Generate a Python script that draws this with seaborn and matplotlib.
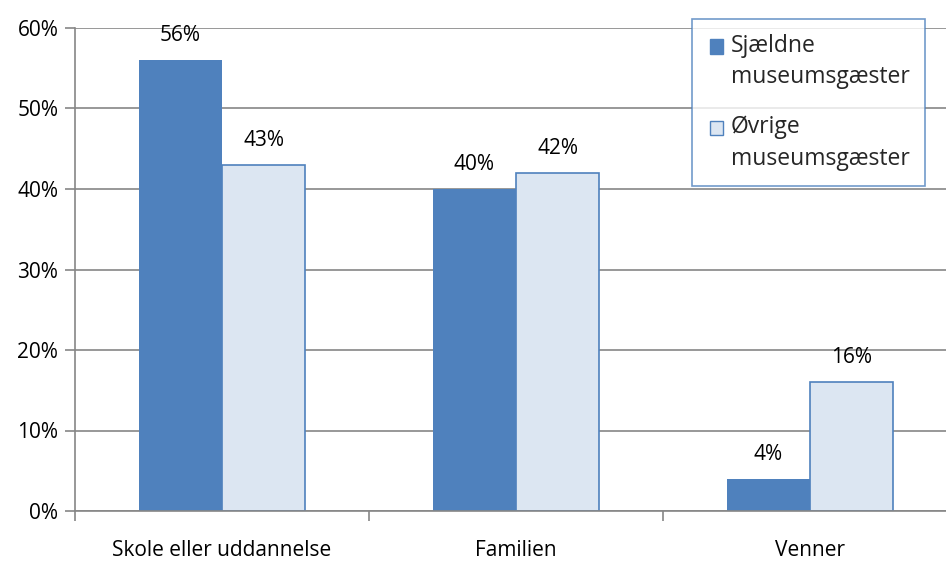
import matplotlib
matplotlib.use("Agg")
import matplotlib.pyplot as plt
import seaborn as sns
import pandas as pd
from matplotlib.patches import Patch
from matplotlib.ticker import FixedLocator, PercentFormatter

categories = ["Skole eller uddannelse", "Familien", "Venner"]
series_names = ["Sjældne\nmuseumsgæster", "Øvrige\nmuseumsgæster"]
sjaeldne = [56, 40, 4]
oevrige = [43, 42, 16]

dark = "#4F81BD"
light = "#DCE6F2"
grid_c = "#868686"

df = pd.DataFrame({
    "kategori": categories * 2,
    "gruppe": [series_names[0]] * 3 + [series_names[1]] * 3,
    "andel": sjaeldne + oevrige,
})

sns.set_theme(style="white")
plt.rcParams["font.family"] = ["Open Sans", "DejaVu Sans"]

fig = plt.figure(figsize=(9.46, 5.61), dpi=100)
ax = fig.add_axes([75 / 946, 50 / 561, 882 / 946, 483 / 561])

sns.barplot(data=df, x="kategori", y="andel", hue="gruppe",
            palette=[dark, light], width=0.566, ax=ax, legend=False,
            saturation=1)

for bar in ax.patches:
    if bar.get_facecolor()[:3] == matplotlib.colors.to_rgb(light):
        bar.set_edgecolor(dark)
        bar.set_linewidth(1.2)
    else:
        bar.set_edgecolor("none")

for cont in ax.containers:
    ax.bar_label(cont, labels=[f"{v:.0f}%" for v in cont.datavalues],
                 padding=10, fontsize=15, color="black")

ax.set_xlim(-0.5, 2.5)
ax.set_ylim(0, 60)
ax.set_yticks(range(0, 61, 10))
ax.yaxis.set_major_formatter(PercentFormatter(decimals=0))
ax.grid(axis="y", color=grid_c, linewidth=1.2)
ax.set_axisbelow(True)

for s in ["top", "right"]:
    ax.spines[s].set_visible(False)
for s in ["left", "bottom"]:
    ax.spines[s].set_color(grid_c)
    ax.spines[s].set_linewidth(1.2)

ax.tick_params(axis="y", which="major", left=True, length=7, width=1.2,
               color=grid_c, labelsize=15, pad=5, labelcolor="black")
ax.tick_params(axis="x", which="major", bottom=False, labelsize=15,
               pad=15, labelcolor="black")
ax.xaxis.set_minor_locator(FixedLocator([-0.5, 0.5, 1.5, 2.5]))
ax.tick_params(axis="x", which="minor", bottom=True, length=7, width=1.2,
               color=grid_c)
ax.set_xlabel("")
ax.set_ylabel("")

handles = [Patch(facecolor=dark, edgecolor=dark),
           Patch(facecolor=light, edgecolor=dark)]
leg = fig.legend(handles, series_names, loc="upper left",
                 bbox_to_anchor=(692 / 946, 1 - 19 / 561),
                 fontsize=16.5, frameon=True, fancybox=False,
                 handlelength=0.6, handleheight=0.6, handletextpad=0.45,
                 labelspacing=1.15, borderpad=0.65, borderaxespad=0)
for t in leg.get_texts():
    t.set_linespacing(1.4)
# square markers sit beside the first line of each two-line label
for p in leg.get_patches():
    p.set_y(p.get_y() + 11.5)
    p.set_x(p.get_x() + 2)
leg.get_frame().set_edgecolor(dark)
leg.get_frame().set_linewidth(1.2)

fig.savefig("out.png", dpi=100)
